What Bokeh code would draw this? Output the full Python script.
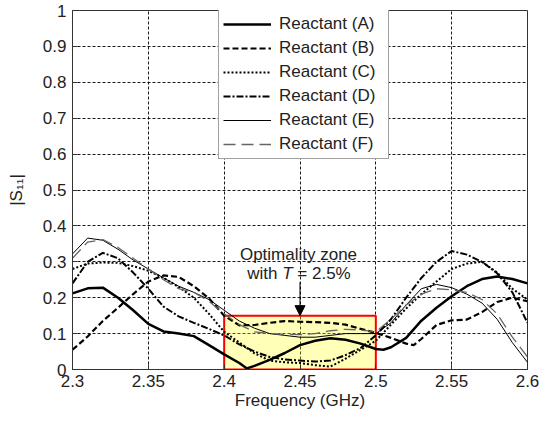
from bokeh.plotting import figure
from bokeh.embed import file_html
from bokeh.resources import INLINE
from bokeh.models import (Range1d, FixedTicker, Legend, LegendItem, Label, Arrow,
                          NormalHead, ColumnDataSource)

# ---------------- data ----------------
freq = [2.30, 2.31, 2.32, 2.33, 2.34, 2.35, 2.36, 2.37, 2.38, 2.39,
        2.40, 2.41, 2.42, 2.43, 2.44, 2.45, 2.46, 2.47, 2.48, 2.49,
        2.50, 2.51, 2.52, 2.53, 2.54, 2.55, 2.56, 2.57, 2.58, 2.59, 2.60]

freq_a = [2.30, 2.31, 2.32, 2.33, 2.34, 2.35, 2.36, 2.37, 2.38, 2.39,
          2.40, 2.41, 2.415, 2.42, 2.43, 2.44, 2.45, 2.46, 2.47, 2.48, 2.49,
          2.50, 2.505, 2.51, 2.52, 2.53, 2.54, 2.55, 2.56, 2.57, 2.58, 2.59, 2.60]
s11_a = [0.212, 0.226, 0.228, 0.200, 0.165, 0.127, 0.106, 0.100, 0.093, 0.068,
         0.042, 0.018, 0.003, 0.010, 0.027, 0.046, 0.068, 0.080, 0.087, 0.083, 0.072,
         0.057, 0.055, 0.062, 0.088, 0.136, 0.172, 0.204, 0.232, 0.252, 0.259, 0.252, 0.240]

freq_b = [2.30, 2.31, 2.32, 2.33, 2.34, 2.35, 2.36, 2.37, 2.38, 2.39,
          2.40, 2.41, 2.42, 2.43, 2.44, 2.45, 2.46, 2.47, 2.48, 2.49,
          2.50, 2.51, 2.52, 2.525, 2.53, 2.54, 2.55, 2.56, 2.57, 2.58, 2.59, 2.60]
s11_b = [0.055, 0.092, 0.135, 0.172, 0.210, 0.245, 0.262, 0.258, 0.232, 0.198,
         0.150, 0.123, 0.124, 0.130, 0.135, 0.133, 0.132, 0.130, 0.125, 0.113,
         0.102, 0.088, 0.072, 0.068, 0.085, 0.124, 0.137, 0.139, 0.160, 0.188, 0.200, 0.190]

s11_c = [0.280, 0.295, 0.298, 0.297, 0.288, 0.275, 0.255, 0.230, 0.200, 0.155,
         0.105, 0.075, 0.045, 0.025, 0.020, 0.018, 0.012, 0.008, 0.030, 0.055,
         0.080, 0.125, 0.170, 0.210, 0.245, 0.280, 0.295, 0.300, 0.270, 0.225, 0.195]

s11_d = [0.240, 0.300, 0.325, 0.310, 0.270, 0.225, 0.175, 0.148, 0.130, 0.113,
         0.095, 0.070, 0.050, 0.035, 0.028, 0.025, 0.022, 0.025, 0.040, 0.060,
         0.095, 0.140, 0.200, 0.255, 0.300, 0.330, 0.320, 0.300, 0.268, 0.215, 0.130]

s11_e = [0.322, 0.366, 0.360, 0.335, 0.305, 0.280, 0.255, 0.232, 0.215, 0.195,
         0.165, 0.135, 0.115, 0.100, 0.095, 0.090, 0.090, 0.095, 0.100, 0.100,
         0.100, 0.130, 0.180, 0.225, 0.237, 0.228, 0.210, 0.185, 0.140, 0.075, 0.020]

s11_f = [0.310, 0.355, 0.362, 0.340, 0.310, 0.280, 0.250, 0.225, 0.215, 0.190,
         0.155, 0.125, 0.105, 0.100, 0.098, 0.097, 0.100, 0.108, 0.112, 0.110,
         0.105, 0.140, 0.180, 0.210, 0.225, 0.222, 0.215, 0.195, 0.155, 0.090, 0.035]

series_names = ["Reactant (A)", "Reactant (B)", "Reactant (C)",
                "Reactant (D)", "Reactant (E)", "Reactant (F)"]

x_ticks = [2.3, 2.35, 2.4, 2.45, 2.5, 2.55, 2.6]
x_tick_labels = ["2.3", "2.35", "2.4", "2.45", "2.5", "2.55", "2.6"]
y_ticks = [0, 0.1, 0.2, 0.3, 0.4, 0.5, 0.6, 0.7, 0.8, 0.9, 1.0]
y_tick_labels = ["0", "0.1", "0.2", "0.3", "0.4", "0.5", "0.6", "0.7", "0.8", "0.9", "1"]

zone_f = [2.4, 2.5]
zone_tol = 0.15
arrow_f = 2.45
arrow_top = 0.243
note_line1 = "Optimality zone"
note_y1 = 0.3215
note_y2 = 0.267

# ---------------- figure ----------------
FONT = "Liberation Sans"
p = figure(width=539, height=414, output_backend="svg", toolbar_location=None,
           x_range=Range1d(2.3, 2.6), y_range=Range1d(0, 1),
           min_border_left=72, min_border_right=12, min_border_top=10, min_border_bottom=45)
p.background_fill_color = "white"
p.border_fill_color = "white"
p.outline_line_color = "#333333"
p.outline_line_width = 1

for ax in (p.xaxis[0], p.yaxis[0]):
    ax.axis_line_color = "#333333"
    ax.major_tick_line_color = "#333333"
    ax.major_tick_in = 5
    ax.major_tick_out = 0
    ax.minor_tick_line_color = None
    ax.major_label_text_font = FONT
    ax.major_label_text_font_size = "17px"
    ax.major_label_text_color = "#222222"
    ax.axis_label_text_font = FONT
    ax.axis_label_text_font_size = "17px"
    ax.axis_label_text_font_style = "normal"
    ax.axis_label_text_color = "#222222"

p.xaxis.ticker = FixedTicker(ticks=x_ticks)
p.xaxis.major_label_overrides = dict(zip(x_ticks, x_tick_labels))
p.yaxis.ticker = FixedTicker(ticks=y_ticks)
p.yaxis.major_label_overrides = dict(zip(y_ticks, y_tick_labels))
p.xaxis.axis_label = "Frequency (GHz)"
p.yaxis.axis_label = "|S\u2081\u2081|"
p.xaxis.major_label_standoff = 5
p.xaxis.axis_label_standoff = 1
p.yaxis.major_label_standoff = 6
p.yaxis.axis_label_standoff = 14

p.grid.grid_line_color = "black"
p.grid.grid_line_alpha = 0.9
p.grid.grid_line_dash = "3 2"
p.grid.grid_line_width = 1

# optimality zone
p.quad(left=[zone_f[0]], right=[zone_f[1]], bottom=[0], top=[zone_tol],
       fill_color="yellow", fill_alpha=0.28, line_color="red", line_width=2)

# curves
styles = [
    dict(line_color="black", line_width=2.5),
    dict(line_color="black", line_width=2.2, line_dash="6 3"),
    dict(line_color="black", line_width=2.0, line_dash="2 2"),
    dict(line_color="black", line_width=2.0, line_dash="7 2 2 2"),
    dict(line_color="black", line_width=1.0),
    dict(line_color="#666666", line_width=1.3, line_dash="12 6"),
]
xs = [freq_a, freq_b, freq, freq, freq, freq]
ys = [s11_a, s11_b, s11_c, s11_d, s11_e, s11_f]
items = []
for name, x, y, st in zip(series_names, xs, ys, styles):
    src = ColumnDataSource(dict(f=x, s=y))
    r = p.line("f", "s", source=src, **st)
    items.append(LegendItem(label=name, renderers=[r]))

legend = Legend(items=items, location=(146, 210), margin=0, padding=4,
                spacing=4, label_height=20, glyph_height=20, glyph_width=48,
                label_standoff=8, label_width=105,
                label_text_font=FONT, label_text_font_size="17px",
                label_text_color="#222222",
                border_line_color="#444444", border_line_width=1,
                background_fill_color="white", background_fill_alpha=1.0)
p.add_layout(legend, "center")

# annotation
def note(text, y, dx, align="left", style="normal"):
    p.add_layout(Label(x=arrow_f, y=y, text=text, x_offset=dx,
                       text_align=align, text_baseline="middle", text_font_style=style,
                       text_font=FONT, text_font_size="17px", text_color="#222222"))

note(note_line1, note_y1, -1.5, align="center")
note("with", note_y2, -52.7)
note("T", note_y2, -17.8, style="italic")
note("= 2.5%", note_y2, -2.7)

p.add_layout(Arrow(end=NormalHead(size=10, fill_color="black", line_color="black"),
                   x_start=arrow_f, y_start=arrow_top, x_end=arrow_f, y_end=zone_tol,
                   line_color="black", line_width=1))

open("out.html", "w").write(file_html(p, INLINE))
